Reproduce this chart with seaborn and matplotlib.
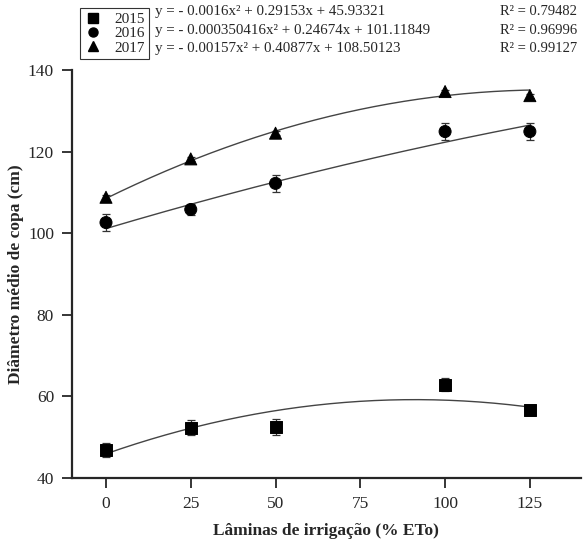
import numpy as np
import pandas as pd
import matplotlib
matplotlib.use("Agg")
import matplotlib.pyplot as plt
import seaborn as sns
from matplotlib.lines import Line2D

# data
laminas = [0, 25, 50, 100, 125]
years = ["2015", "2016", "2017"]
d2015 = [46.9, 52.3, 52.5, 62.9, 56.7]
d2016 = [102.6, 105.8, 112.2, 124.9, 124.9]
d2017 = [108.8, 118.2, 124.5, 134.7, 133.7]
e2015 = [1.8, 1.8, 2.0, 1.6, 0.5]
e2016 = [2.0, 1.3, 2.0, 2.0, 2.0]
e2017 = [0.5, 0.5, 0.5, 0.5, 0.5]
coefs = {
    "2015": [-0.0016, 0.29153, 45.93321],
    "2016": [-0.000350416, 0.24674, 101.11849],
    "2017": [-0.00157, 0.40877, 108.50123],
}
equations = [
    "y = - 0.0016x² + 0.29153x + 45.93321",
    "y = - 0.000350416x² + 0.24674x + 101.11849",
    "y = - 0.00157x² + 0.40877x + 108.50123",
]
r2_labels = ["R² = 0.79482", "R² = 0.96996", "R² = 0.99127"]
markers = {"2015": "s", "2016": "o", "2017": "^"}

sns.set_style("ticks")
plt.rcParams["font.family"] = ["Liberation Serif", "DejaVu Serif"]

df = pd.DataFrame({
    "x": laminas * 3,
    "y": d2015 + d2016 + d2017,
    "err": e2015 + e2016 + e2017,
    "ano": [y for y in years for _ in laminas],
})

# fitted curves from the printed equations
xs = np.linspace(0, 125, 200)
fit = pd.concat([
    pd.DataFrame({"x": xs, "y": np.polyval(coefs[y], xs), "ano": y}) for y in years
])

fig = plt.figure(figsize=(5.86, 5.42), dpi=100)
ax = fig.add_axes([0.123, 0.118, 0.868, 0.753])

sns.lineplot(data=fit, x="x", y="y", units="ano", estimator=None,
             color="#444444", linewidth=1.0, ax=ax, legend=False)

for y in years:
    sub = df[df["ano"] == y]
    ax.errorbar(sub["x"], sub["y"], yerr=sub["err"], fmt="none",
                ecolor="#333333", elinewidth=0.9, capsize=3, capthick=0.9)

sns.scatterplot(data=df, x="x", y="y", style="ano", markers=markers,
                color="black", s=75, edgecolor="black", ax=ax, legend=False,
                zorder=3)

ax.set_xlim(-10, 140)
ax.set_ylim(40, 140)
ax.set_xticks([0, 25, 50, 75, 100, 125])
ax.set_yticks([40, 60, 80, 100, 120, 140])
ax.tick_params(labelsize=12.5, length=7, width=1.3, direction="out", pad=6)
for s in ["left", "bottom"]:
    ax.spines[s].set_linewidth(1.6)
sns.despine(ax=ax)

ax.set_xlabel("Lâminas de irrigação (% ETo)", fontsize=12.5, fontweight="bold", labelpad=8)
ax.set_ylabel("Diâmetro médio de copa (cm)", fontsize=12.5, fontweight="bold", labelpad=3)

handles = [Line2D([], [], marker=markers[y], color="black", linestyle="none",
                  markersize=6.5) for y in years]
leg = fig.legend(handles, years, loc="upper left", bbox_to_anchor=(0.137, 0.986),
                 frameon=True, fancybox=False, edgecolor="black", fontsize=11,
                 handlelength=1.0, handletextpad=0.9, labelspacing=0.05,
                 borderpad=0.3, borderaxespad=0)
leg.get_frame().set_linewidth(0.8)

for i in range(3):
    fig.text(0.265, 0.978 - i * 0.0335, equations[i], fontsize=10.8, va="center")
    fig.text(0.853, 0.978 - i * 0.0335, r2_labels[i], fontsize=10.5, va="center")

fig.savefig("out.png", dpi=100)
